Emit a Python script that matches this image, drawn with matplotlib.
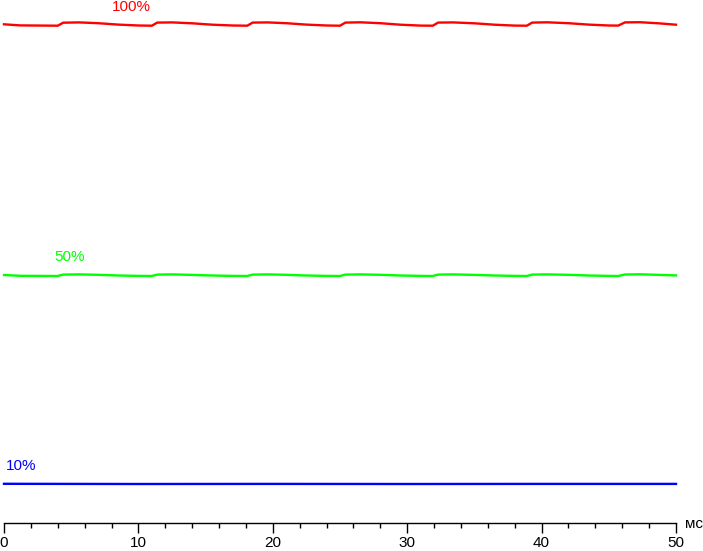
import matplotlib
matplotlib.use("Agg")
import matplotlib.pyplot as plt

# time (ms) and brightness readings (arbitrary units)
red_t = [0, 1.2, 4.0, 4.4, 5.6, 7.0, 8.5, 10.0, 11.0, 11.4, 12.5, 14.0, 15.5, 17.0,
         18.1, 18.5, 19.6, 21.0, 22.5, 24.0, 25.0, 25.4, 26.5, 28.0, 29.5, 31.0,
         31.9, 32.3, 33.4, 35.0, 36.5, 38.0, 38.9, 39.3, 40.4, 42.0, 43.5, 45.0,
         45.7, 46.2, 47.3, 48.8, 50.0]
red_v = [498.7, 497.6, 497.3, 500.3, 500.6, 499.8, 498.4, 497.5, 497.3, 500.4, 500.6, 499.7, 498.3, 497.5,
         497.3, 500.4, 500.6, 499.8, 498.4, 497.5, 497.3, 500.4, 500.7, 499.8, 498.3, 497.4,
         497.3, 500.4, 500.6, 499.7, 498.3, 497.4, 497.3, 500.4, 500.7, 499.8, 498.4, 497.5,
         497.4, 500.6, 500.8, 499.6, 498.3]

green_t = red_t
green_v = [248.0, 247.2, 247.0, 248.4, 248.6, 248.2, 247.5, 247.1, 247.0, 248.4, 248.6, 248.1, 247.5, 247.1,
           247.0, 248.4, 248.6, 248.2, 247.5, 247.1, 247.0, 248.4, 248.6, 248.2, 247.5, 247.1,
           247.0, 248.4, 248.6, 248.1, 247.5, 247.1, 247.0, 248.4, 248.6, 248.2, 247.5, 247.1,
           247.0, 248.5, 248.7, 248.1, 247.6]

blue_t = [0, 10, 20, 30, 40, 50]
blue_v = [39.2, 39.0, 39.1, 39.0, 39.1, 39.1]

labels = ["100%", "50%", "10%"]
label_t = [9.5, 4.85, 1.25]
label_v = [516, 266, 57]
colors = ["#ff0000", "#00ff00", "#0000ff"]

W, H = 703, 551
fig = plt.figure(figsize=(W / 100, H / 100), dpi=100)
ax = fig.add_axes([4 / W, (H - 523) / H, (676 - 4) / W, 523 / H])
ax.set_xlim(0, 50)
ax.set_ylim(0, 523)

font = dict(family=["Liberation Sans", "DejaVu Sans"], fontsize=11)

for t, v, c in zip([red_t, green_t, blue_t], [red_v, green_v, blue_v], colors):
    ax.plot(t, v, color=c, lw=1.7, solid_joinstyle="miter", clip_on=False)

for s, t, v, c in zip(labels, label_t, label_v, colors):
    ax.text(t, v, s, color=c, ha="center", va="center", **font)

for side in ["top", "right", "left"]:
    ax.spines[side].set_visible(False)
ax.spines["bottom"].set_linewidth(1.0)
ax.spines["bottom"].set_color("black")
ax.yaxis.set_visible(False)
ax.set_xticks(range(0, 51, 10))
ax.set_xticks(range(0, 51, 2), minor=True)
ax.tick_params(axis="x", which="major", length=7.2, width=1.0, direction="out", pad=2, color="black")
ax.tick_params(axis="x", which="minor", length=3.6, width=1.0, direction="out", color="black")
for lab in ax.get_xticklabels():
    lab.set_fontfamily(["Liberation Sans", "DejaVu Sans"])
    lab.set_fontsize(11)

fig.text(685 / W, (H - 524) / H, "мс", ha="left", va="center", **font)

fig.savefig("out.png", dpi=100)
